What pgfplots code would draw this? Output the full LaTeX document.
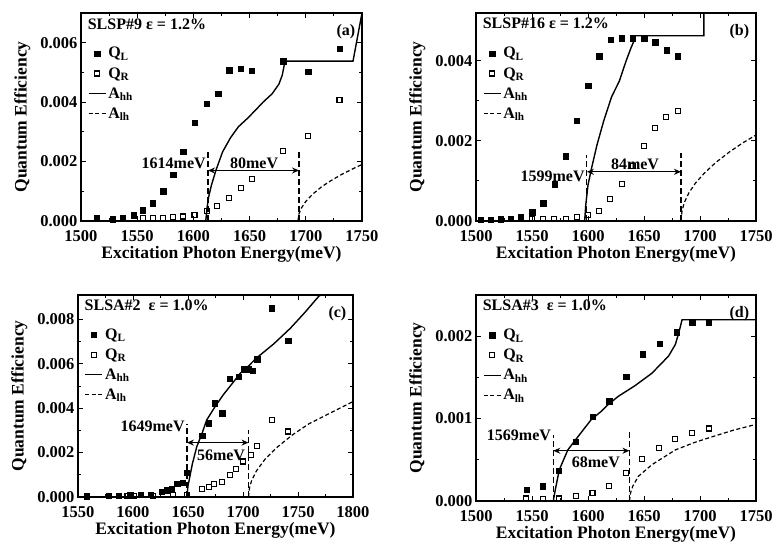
\documentclass[border=0pt]{standalone}
\usepackage{fontspec}
\setmainfont{Liberation Serif}
\usepackage{pgfplots}
\pgfplotsset{compat=1.18}
\usetikzlibrary{arrows.meta}

\pgfplotsset{
  panel/.style={
    scale only axis,
    axis line style={line width=1.4pt},
    every tick/.style={line width=1pt, black},
    tick align=inside,
    major tick length=5pt, minor tick length=3pt,
    minor x tick num=1, minor y tick num=1,
    xtick distance=50,
    ymin=0,
    scaled y ticks=false,
    yticklabel style={/pgf/number format/.cd, fixed, fixed zerofill, precision=3},
    xticklabel style={yshift=-6pt},
    /pgf/number format/assume math mode=true,
    /pgf/number format/1000 sep={},
    tick label style={font=\fontsize{16.5}{18}\selectfont\bfseries},
    label style={font=\fontsize{17.5}{19}\selectfont\bfseries},
    xlabel={Excitation Photon Energy(meV)},
    ylabel={Quantum Efficiency},
    xlabel shift=-2pt,
    ylabel shift=3pt,
    legend style={draw=none, fill=none, at={(0.02,0.85)}, anchor=north west,
      font=\fontsize{16}{17}\selectfont\bfseries, row sep=4pt, inner sep=1pt},
    legend cell align=left,
  },
  QL/.style={only marks, mark=square*, mark size=2.7pt, mark options={fill=black, draw=black}},
  QR/.style={only marks, mark=square, mark size=2.5pt, mark options={line width=1.1pt, draw=black}},
  hh/.style={black, line width=1.4pt, no marks},
  lh/.style={black, line width=1.2pt, no marks, dash pattern=on 4pt off 2.5pt},
  vd/.style={black, line width=1.2pt, no marks, dash pattern=on 6pt off 3pt, forget plot},
}
\tikzset{
  txt/.style={font=\fontsize{16}{18}\selectfont\bfseries, inner sep=1pt},
  dbl/.style={{Stealth[length=7pt,width=6pt]}-{Stealth[length=7pt,width=6pt]}, line width=1.3pt},
}

\begin{document}
\begin{tikzpicture}
\useasboundingbox (0,0) rectangle (777pt,544pt);

% (a) SLSP#9
\begin{axis}[panel, at={(81pt,323pt)}, anchor=south west, width=281pt, height=208pt,
  xmin=1500, xmax=1750, ymax=0.007, ytick={0,0.002,0.004,0.006}]
\addplot[QL] coordinates {
 (1514,0.0001) (1528,0.00006) (1537,0.0001) (1547,0.0002) (1555,0.00037)
 (1564,0.0006) (1573,0.001) (1582,0.00156) (1591,0.00233) (1601,0.0033)
 (1612,0.00395) (1622,0.00428) (1632,0.00508) (1642,0.00513) (1652,0.00506)
 (1680,0.00538) (1702,0.00502) (1730,0.0058)};
\addlegendentry{Q\textsubscript{L}}
\addplot[QR] coordinates {
 (1555,0.0001) (1564,0.0001) (1573,0.0001) (1582,0.00012) (1591,0.00015)
 (1601,0.0002) (1612,0.00033) (1621,0.0005) (1632,0.00076) (1642,0.0011)
 (1652,0.0014) (1680,0.00236) (1702,0.00287) (1730,0.00406)};
\addlegendentry{Q\textsubscript{R}}
\addplot[hh] coordinates {
 (1611,0) (1612,0.0004) (1613.5,0.0008) (1616,0.0012) (1620,0.0017) (1626,0.00233)
 (1633,0.0028) (1640,0.00317) (1648,0.00345) (1655,0.00372) (1662,0.004)
 (1670,0.00428) (1676,0.0046) (1679,0.0049) (1681,0.00528) (1681,0.00538)
 (1742,0.00538) (1750,0.007)};
\addlegendentry{A\textsubscript{hh}}
\addplot[lh] coordinates {
 (1693,0) (1694,0.00025) (1696,0.00043) (1700,0.00066) (1706,0.0009) (1714,0.00115)
 (1722,0.00135) (1732,0.00157) (1742,0.00176) (1750,0.0019)};
\addlegendentry{A\textsubscript{lh}}
\addplot[vd] coordinates {(1613,0) (1613,0.0024)};
\addplot[vd] coordinates {(1694,0) (1694,0.0024)};
\draw[dbl] (axis cs:1613,0.0017) -- (axis cs:1694,0.0017);
\node[txt, anchor=south east] at (axis cs:1612,0.00172) {1614meV};
\node[txt, anchor=south] at (axis cs:1654,0.00172) {80meV};
\node[txt, anchor=north west] at (rel axis cs:0.02,0.98) {SLSP\#9 ε = 1.2\%};
\node[txt, anchor=north east] at (rel axis cs:0.98,0.95) {(a)};
\end{axis}

% (b) SLSP#16
\begin{axis}[panel, at={(476pt,323pt)}, anchor=south west, width=280pt, height=208pt,
  xmin=1500, xmax=1750, ymax=0.0052, ytick={0,0.002,0.004}]
\addplot[QL] coordinates {
 (1504,0.00003) (1513,0.00003) (1522,0.00004) (1531,0.00005) (1540,0.0001)
 (1550,0.00022) (1560,0.00044) (1570,0.00092) (1580,0.00162) (1590,0.0025)
 (1600,0.00338) (1610,0.00412) (1620,0.00453) (1630,0.00457) (1640,0.00457)
 (1650,0.00455) (1660,0.00447) (1670,0.00427) (1680,0.00412)};
\addlegendentry{Q\textsubscript{L}}
\addplot[QR] coordinates {
 (1550,0.00005) (1560,0.00005) (1570,0.00005) (1580,0.00006) (1590,0.0001)
 (1600,0.00015) (1610,0.00026) (1620,0.00054) (1630,0.00092) (1640,0.00138)
 (1650,0.00188) (1660,0.00232) (1670,0.00259) (1680,0.00275)};
\addlegendentry{Q\textsubscript{R}}
\addplot[hh] coordinates {
 (1597,0) (1598,0.0004) (1600,0.0009) (1603,0.0013) (1608,0.0019) (1614,0.0025)
 (1621,0.0031) (1628,0.0035) (1634,0.004) (1638,0.0043) (1641,0.0045)
 (1642,0.00463) (1703.5,0.00463) (1703.5,0.0052)};
\addlegendentry{A\textsubscript{hh}}
\addplot[lh] coordinates {
 (1683,0) (1684,0.00026) (1686,0.00046) (1690,0.0007) (1696,0.00095) (1704,0.0012)
 (1714,0.00146) (1726,0.00172) (1738,0.00195) (1750,0.00215)};
\addlegendentry{A\textsubscript{lh}}
\addplot[vd] coordinates {(1599,0) (1599,0.00165)};
\addplot[vd] coordinates {(1683,0) (1683,0.0017)};
\draw[dbl] (axis cs:1599,0.00123) -- (axis cs:1683,0.00123);
\node[txt, anchor=east] at (axis cs:1598,0.00112) {1599meV};
\node[txt, anchor=south] at (axis cs:1642,0.00126) {84meV};
\node[txt, anchor=north west] at (rel axis cs:0.02,0.98) {SLSP\#16 ε = 1.2\%};
\node[txt, anchor=north east] at (rel axis cs:0.98,0.95) {(b)};
\end{axis}

% (c) SLSA#2
\begin{axis}[panel, at={(78pt,47pt)}, anchor=south west, width=275pt, height=202pt,
  xmin=1550, xmax=1800, ymax=0.0091, ytick={0,0.002,0.004,0.006,0.008}]
\addplot[QL] coordinates {
 (1558,0.00003) (1578,0.00005) (1587,0.00005) (1597,0.00008) (1607,0.0001)
 (1616,0.0001) (1626,0.00025) (1631,0.0003) (1635,0.00035) (1640,0.0006)
 (1645,0.00065) (1649,0.0011) (1663,0.00275) (1669,0.00333) (1674,0.00422)
 (1681,0.00378) (1688,0.00532) (1696,0.00542) (1701,0.00575) (1705,0.00575)
 (1709,0.00569) (1713,0.0062) (1726,0.0085) (1741,0.00704)};
\addlegendentry{Q\textsubscript{L}}
\addplot[QR] coordinates {
 (1595,0.00005) (1601,0.00005) (1618,0.00005) (1636,0.0001) (1649,0.0001)
 (1663,0.00036) (1669,0.00045) (1674,0.0006) (1681,0.00066) (1688,0.001)
 (1694,0.00126) (1700,0.0016) (1707,0.0019) (1713,0.0023) (1726,0.00347)
 (1741,0.00295)};
\addlegendentry{Q\textsubscript{R}}
\addplot[hh] coordinates {
 (1649,0) (1650,0.0005) (1652,0.001) (1654,0.0015) (1658,0.00227) (1663,0.0029)
 (1667,0.00347) (1675,0.0041) (1682,0.0046) (1690,0.0051) (1697.5,0.00557)
 (1705,0.0059) (1712,0.00625) (1728,0.0069) (1743,0.0076) (1756,0.0083)
 (1769,0.00905) (1771,0.0091)};
\addlegendentry{A\textsubscript{hh}}
\addplot[lh] coordinates {
 (1705,0) (1706,0.00044) (1708,0.00076) (1712,0.00116) (1720,0.0017) (1730,0.0022)
 (1745,0.0028) (1760,0.0033) (1780,0.0038) (1800,0.0043)};
\addlegendentry{A\textsubscript{lh}}
\addplot[vd] coordinates {(1649,0) (1649,0.0033)};
\addplot[vd] coordinates {(1705,0) (1705,0.003)};
\draw[dbl] (axis cs:1649,0.00245) -- (axis cs:1705,0.00245);
\node[txt, anchor=east] at (axis cs:1648,0.0032) {1649meV};
\node[txt] at (axis cs:1680,0.0019) {56meV};
\node[txt, anchor=north west] at (rel axis cs:0.02,0.98) {SLSA\#2\ \ ε = 1.0\%};
\node[txt, anchor=north east] at (rel axis cs:0.98,0.95) {(c)};
\end{axis}

% (d) SLSA#3
\begin{axis}[panel, at={(476pt,43pt)}, anchor=south west, width=280pt, height=206pt,
  xmin=1500, xmax=1750, ymax=0.0025, ytick={0,0.001,0.002}]
\addplot[QL] coordinates {
 (1545,0.00014) (1559.5,0.00018) (1574,0.00037) (1589,0.00072) (1604,0.00102)
 (1619,0.00121) (1634,0.00151) (1649,0.00178) (1664,0.00191) (1679,0.00205)
 (1693,0.00217) (1708,0.00217)};
\addlegendentry{Q\textsubscript{L}}
\addplot[QR] coordinates {
 (1545,0.00003) (1560,0.00002) (1574,0.00003) (1589,0.00006) (1604,0.0001)
 (1619,0.00018) (1634,0.00034) (1648,0.00051) (1663,0.00064) (1678,0.00075)
 (1693,0.00083) (1708,0.00088)};
\addlegendentry{Q\textsubscript{R}}
\addplot[hh] coordinates {
 (1569,0) (1571,0.00015) (1574.4,0.00038) (1582,0.00062) (1591,0.00078) (1603,0.00099)
 (1612,0.00109) (1618,0.00117) (1627,0.00127) (1642,0.0014) (1657,0.00155)
 (1672,0.00176) (1678,0.0019) (1681,0.00204) (1684,0.0022) (1750,0.0022)};
\addlegendentry{A\textsubscript{hh}}
\addplot[lh] coordinates {
 (1637,0) (1638,0.0001) (1640,0.00018) (1645,0.0003) (1657,0.00044) (1678,0.00062)
 (1695,0.00071) (1711,0.00078) (1730,0.00086) (1750,0.00093)};
\addlegendentry{A\textsubscript{lh}}
\addplot[vd] coordinates {(1569,0) (1569,0.0008)};
\addplot[vd] coordinates {(1637,0) (1637,0.00085)};
\draw[dbl] (axis cs:1569,0.00061) -- (axis cs:1637,0.00061);
\node[txt, anchor=east] at (axis cs:1568,0.0008) {1569meV};
\node[txt] at (axis cs:1607,0.00047) {68meV};
\node[txt, anchor=north west] at (rel axis cs:0.02,0.98) {SLSA\#3\ \ ε = 1.0\%};
\node[txt, anchor=north east] at (rel axis cs:0.98,0.95) {(d)};
\end{axis}
\end{tikzpicture}
\end{document}
